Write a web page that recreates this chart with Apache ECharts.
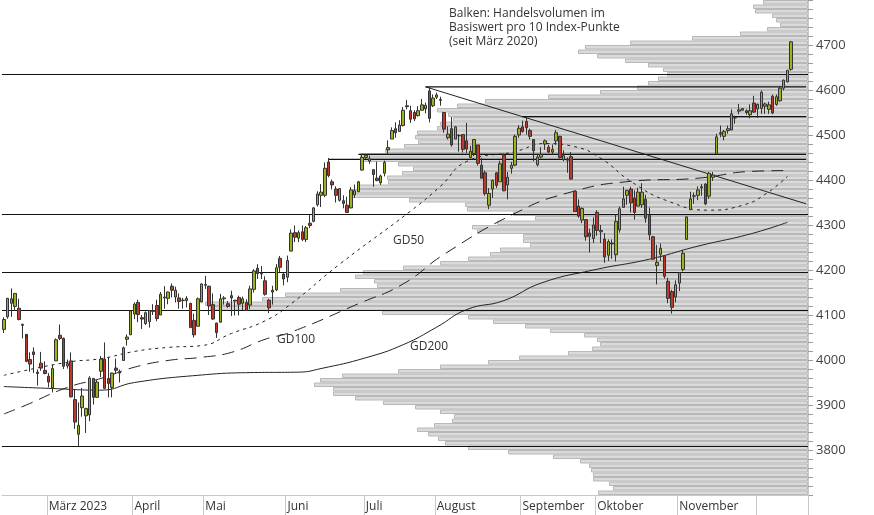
<!DOCTYPE html>
<html><head><meta charset="utf-8">
<script src="https://cdn.jsdelivr.net/npm/echarts@6/dist/echarts.min.js"></script>
<style>html,body{margin:0;padding:0;background:#fff}#c{width:874px;height:515px}</style>
</head><body><div id="c"></div>
<script>
// trading days per month (Feb 10 2023 .. Dec 13 2023)
const monthNames = ['', 'März 2023', 'April', 'Mai', 'Juni', 'Juli', 'August', 'September', 'Oktober', 'November', ''];
const monthDays = [12, 23, 19, 22, 21, 19, 23, 20, 22, 21, 9];
const padDays = 5;
// [open, close, low, high]
const ohlc = [
[4068,4090,4060,4095],[4096,4137,4092,4138],[4126,4136,4096,4159],[4119,4148,4109,4148],[4115,4090,4088,4136],[4077,4079,4048,4081],[4057,3997,3995,4050],[4001,3991,3974,4017],[4018,4012,3971,4028],[3973,3970,3943,3979],[3993,3982,3976,4018],[3977,3970,3968,3997],
[3964,3951,3939,3971],[3938,3981,3928,3990],[3998,4045,3998,4048],[4055,4048,4044,4079],[4048,3986,3980,4050],[3987,3992,3981,4001],[3998,3918,3917,4017],[3912,3862,3847,3935],[3835,3855,3809,3906],[3894,3920,3874,3938],[3876,3892,3838,3894],[3878,3960,3864,3964],[3959,3917,3901,3959],[3917,3951,3917,3956],[3975,4002,3962,4009],[4002,3937,3936,4039],[3959,3948,3917,4007],[3939,3971,3917,3972],[3982,3977,3970,4003],[3974,3971,3950,3979],[3999,4027,3999,4030],[4046,4051,4032,4057],[4056,4109,4056,4110],
[4102,4124,4091,4128],[4128,4101,4084,4134],[4094,4091,4069,4100],[4081,4105,4078,4108],[4085,4110,4072,4110],[4110,4108,4100,4124],[4121,4092,4086,4134],[4100,4146,4100,4151],[4140,4138,4114,4164],[4137,4151,4124,4152],[4164,4155,4139,4170],[4140,4155,4128,4163],[4138,4130,4114,4148],[4132,4133,4114,4138],[4132,4137,4117,4142],[4126,4072,4071,4127],[4088,4056,4050,4103],[4075,4136,4075,4139],[4129,4169,4128,4170],
[4166,4168,4158,4187],[4164,4120,4100,4165],[4123,4091,4089,4148],[4082,4061,4049,4083],[4084,4136,4084,4147],[4136,4138,4123,4142],[4125,4119,4116,4131],[4143,4138,4098,4154],[4133,4131,4099,4133],[4139,4124,4099,4143],[4126,4136,4110,4141],[4128,4110,4109,4135],[4122,4158,4113,4165],[4157,4198,4150,4202],[4204,4192,4180,4213],[4191,4192,4180,4209],[4176,4146,4143,4186],[4133,4116,4104,4136],[4155,4151,4123,4165],[4156,4205,4153,4213],[4226,4206,4193,4231],[4191,4180,4166,4195],
[4184,4221,4173,4232],[4242,4282,4242,4290],[4283,4273,4262,4299],[4271,4283,4262,4288],[4285,4268,4264,4299],[4268,4294,4262,4298],[4304,4299,4293,4322],[4308,4338,4306,4340],[4345,4369,4341,4375],[4366,4373,4340,4391],[4366,4426,4362,4439],[4440,4410,4406,4449],[4396,4389,4379,4401],[4380,4366,4350,4386],[4355,4381,4352,4382],[4354,4348,4337,4366],[4344,4328,4327,4363],[4338,4378,4337,4384],[4367,4376,4360,4390],[4374,4396,4374,4398],[4422,4450,4421,4458],
[4450,4455,4447,4457],[4442,4447,4436,4454],[4423,4412,4385,4423],[4404,4399,4397,4441],[4394,4409,4389,4412],[4415,4439,4408,4443],[4467,4472,4457,4488],[4491,4510,4491,4517],[4514,4505,4494,4528],[4508,4522,4508,4533],[4521,4555,4519,4562],[4563,4565,4557,4578],[4554,4535,4527,4565],[4550,4536,4531,4555],[4543,4554,4541,4564],[4555,4567,4556,4580],[4558,4566,4548,4572],[4598,4537,4528,4607],[4565,4582,4562,4590],[4584,4589,4580,4594],
[4579,4577,4565,4585],[4550,4513,4505,4550],[4494,4502,4490,4519],[4514,4478,4474,4540],[4491,4518,4491,4520],[4498,4499,4463,4502],[4501,4468,4461,4502],[4487,4469,4460,4527],[4450,4464,4448,4476],[4459,4490,4453,4490],[4478,4437,4432,4478],[4433,4404,4403,4449],[4416,4370,4365,4421],[4344,4370,4335,4382],[4380,4399,4360,4401],[4416,4388,4382,4418],[4396,4436,4396,4443],[4455,4376,4375,4459],[4389,4406,4357,4418],[4426,4433,4414,4440],[4433,4497,4431,4501],[4500,4515,4494,4522],[4518,4508,4505,4532],
[4530,4516,4501,4541],[4510,4497,4490,4514],[4490,4465,4442,4490],[4434,4451,4430,4457],[4451,4457,4448,4473],[4480,4487,4467,4490],[4473,4462,4460,4478],[4462,4468,4456,4479],[4487,4505,4478,4511],[4497,4450,4448,4498],[4445,4454,4442,4466],[4446,4444,4416,4450],[4452,4402,4401,4462],[4375,4330,4329,4376],[4342,4320,4316,4357],[4311,4337,4304,4339],[4312,4274,4265,4313],[4282,4275,4239,4292],[4270,4300,4260,4317],[4328,4288,4276,4333],
[4285,4288,4260,4300],[4269,4229,4216,4282],[4233,4263,4220,4268],[4260,4258,4225,4268],[4234,4308,4219,4324],[4289,4336,4283,4341],[4339,4358,4339,4385],[4366,4377,4345,4378],[4380,4349,4328,4385],[4360,4328,4312,4377],[4342,4373,4342,4383],[4345,4373,4338,4393],[4357,4315,4305,4367],[4321,4278,4266,4339],[4274,4224,4223,4276],[4210,4217,4168,4256],[4235,4248,4220,4259],[4232,4186,4181,4233],[4175,4137,4126,4183],[4152,4117,4103,4156],[4140,4167,4128,4177],[4171,4194,4153,4195],
[4201,4237,4197,4245],[4268,4318,4268,4319],[4334,4358,4334,4374],[4364,4365,4347,4372],[4366,4378,4355,4386],[4385,4383,4365,4391],[4391,4347,4344,4393],[4364,4415,4358,4418],[4406,4411,4398,4418],[4458,4496,4458,4503],[4505,4502,4495,4521],[4497,4508,4488,4511],[4510,4514,4503,4521],[4511,4547,4511,4557],[4538,4538,4525,4543],[4553,4556,4546,4569],[4555,4559,4554,4560],[4554,4550,4545,4557],[4545,4554,4537,4568],[4571,4551,4549,4587],[4558,4568,4538,4570],
[4559,4595,4547,4599],[4564,4569,4547,4572],[4557,4567,4547,4574],[4586,4549,4546,4590],[4568,4585,4565,4590],[4576,4604,4574,4609],[4604,4622,4599,4623],[4618,4644,4617,4644],[4646,4707,4643,4709]
];
// moving averages [dayIndex, value]
const gd50 = [[0,3966],[17,3995],[26,4003],[35,4019],[44,4028],[53,4032],[61,4059],[70,4087],[77,4125],[90,4213],[109,4331],[117,4386],[124,4441],[137,4463],[145,4481],[153,4474],[160,4448],[168,4397],[178,4353],[189,4333],[198,4344],[204,4368],[210,4408]];
const gd100 = [[0,3880],[6,3900],[17,3939],[26,3959],[35,3984],[44,3999],[53,4006],[61,4017],[70,4046],[77,4062],[95,4125],[107,4169],[118,4235],[137,4326],[151,4371],[168,4397],[186,4404],[200,4419],[210,4421]];
const gd200 = [[0,3941],[12,3937],[26,3933],[35,3950],[52,3966],[66,3972],[79,3973],[85,3981],[97,4005],[107,4034],[116,4073],[124,4112],[134,4132],[144,4171],[158,4200],[173,4224],[186,4253],[200,4280],[210,4306]];
// volume profile: price levels 3700..4790 step 10, relative length
const profileLevels = [];
for (let v = 3700; v <= 4790; v += 10) profileLevels.push(v);
const profileVolume = [210,195,199,215,215,217,219,228,255,300,340,363,370,380,391,374,356,354,368,393,425,453,475,475,494,488,466,410,368,320,289,240,216,208,211,224,258,283,315,340,426,598,603,546,523,468,431,434,453,445,405,368,340,318,308,278,285,285,331,336,311,273,295,341,343,399,458,456,451,420,421,406,395,410,446,448,423,404,390,393,391,371,368,355,360,371,351,323,260,208,171,160,150,141,145,160,183,211,230,223,178,116,68,41,28,32,36,53,55,45];
const fullLines = [4634, 4325, 4194, 4110, 3808];
const partLines = [[113,4607],[139,4541],[95,4457],[87,4446]];
const trend = [[113,4607],[215,4347]];
const yTicks = [3800,3900,4000,4100,4200,4300,4400,4500,4600,4700];

const categories = [];
const monthStart = {};
let idx = 0;
monthDays.forEach((d, m) => { if (m > 0) monthStart[idx] = monthNames[m]; for (let k = 0; k < d; k++) categories.push(String(idx++)); });
for (let k = 0; k < padDays; k++) categories.push(String(idx++));
const lastIdx = categories.length - 1;

const chart = echarts.init(document.getElementById('c'));
const font = 'Open Sans';
chart.setOption({
  animation: false,
  grid: [
    {left: 2, right: 66, top: -2, bottom: 20},
    {left: 2, right: 66, top: -2, bottom: 20}
  ],
  xAxis: [
    {type: 'category', data: categories, gridIndex: 0, boundaryGap: true,
     axisLine: {lineStyle: {color: '#c8c8c8'}},
     axisTick: {show: true, length: 20, interval: (i) => (i in monthStart), lineStyle: {color: '#c8c8c8'}},
     axisLabel: {interval: (i) => (i in monthStart) && monthStart[i] !== '', formatter: (v, i) => monthStart[i] || '',
                 align: 'left', margin: 6, color: '#333', fontFamily: font, fontSize: 12},
     splitLine: {show: false}},
    {type: 'value', gridIndex: 1, inverse: true, min: 0, max: 806, show: false}
  ],
  yAxis: [
    {type: 'value', gridIndex: 0, position: 'right', min: 3700, max: 4800, interval: 20,
     axisLine: {show: true, lineStyle: {color: '#c8c8c8'}},
     axisTick: {show: true, length: 5, lineStyle: {color: '#999'}},
     axisLabel: {margin: 8, color: '#444', fontFamily: font, fontSize: 13,
                 formatter: (v) => yTicks.indexOf(v) >= 0 ? String(v) : ''},
     splitLine: {show: false}},
    {type: 'category', gridIndex: 1, data: profileLevels, show: false, boundaryGap: true}
  ],
  graphic: [
    {type: 'text', left: 449, top: 7, z: 10, style: {text: 'Balken: Handelsvolumen im\nBasiswert pro 10 Index-Punkte\n(seit März 2020)', fill: '#333', font: '12px "Open Sans"', lineHeight: 14}},
    {type: 'text', left: 393, top: 235, z: 10, style: {text: 'GD50', fill: '#333', font: '12px "Open Sans"'}},
    {type: 'text', left: 277, top: 334, z: 10, style: {text: 'GD100', fill: '#333', font: '12px "Open Sans"'}},
    {type: 'text', left: 410, top: 341, z: 10, style: {text: 'GD200', fill: '#333', font: '12px "Open Sans"'}}
  ],
  series: [
    {type: 'bar', xAxisIndex: 1, yAxisIndex: 1, data: profileVolume, barCategoryGap: 0, z: 1, silent: true,
     itemStyle: {color: '#dadada', borderColor: '#b8b8b8', borderWidth: 1}},
    {type: 'line', data: gd200, smooth: true, symbol: 'none', z: 3, lineStyle: {color: '#222', width: 1}},
    {type: 'line', data: gd100, smooth: true, symbol: 'none', z: 3, lineStyle: {color: '#222', width: 1, type: [12, 7]}},
    {type: 'line', data: gd50, smooth: true, symbol: 'none', z: 3, lineStyle: {color: '#222', width: 1, type: [3, 4]}},
    {type: 'line', data: trend, symbol: 'none', z: 4, lineStyle: {color: '#222', width: 1}},
    ...partLines.map(p => ({type: 'line', data: [p, [lastIdx, p[1]]], symbol: 'none', z: 4, lineStyle: {color: '#111', width: 1.2}})),
    {type: 'candlestick', data: ohlc, barWidth: 3, z: 5,
     itemStyle: {color: '#9fb21c', color0: '#c0392b', borderColor: '#333', borderColor0: '#333', borderWidth: 1},
     markLine: {silent: true, symbol: 'none', label: {show: false}, animation: false,
       lineStyle: {color: '#111', width: 1.2, type: 'solid'},
       data: fullLines.map(v => ({yAxis: v}))}}
  ]
});
</script></body></html>
